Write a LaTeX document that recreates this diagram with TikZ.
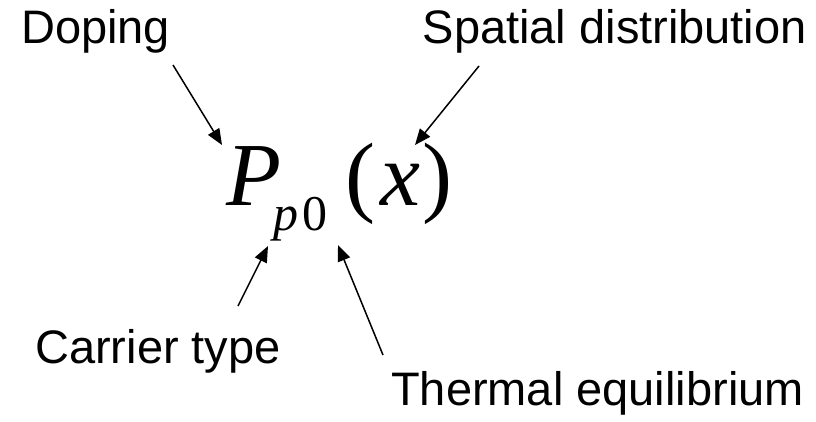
\documentclass[tikz,border=0pt]{standalone}
\usepackage{fontspec}
\setmainfont{Liberation Sans}
\newfontfamily\eqfont{Liberation Serif}
\usetikzlibrary{arrows.meta, positioning}

\begin{document}
\begin{tikzpicture}[
        x=1pt, y=-1pt,
        >={Triangle[length=16pt, width=13pt]},
        tag/.style={inner sep=0pt, anchor=base west, font=\fontsize{47}{50}\selectfont},
        sym/.style={inner sep=0pt, anchor=base west, font=\eqfont\fontsize{90}{95}\selectfont},
        pointer/.style={->, line width=1.5pt}
    ]
        \useasboundingbox (0,0) rectangle (816,421);

        % Formula
        \node[sym] (density) at (226,205) {\itshape P\kern-8pt\raisebox{-25pt}{\fontsize{50}{52}\selectfont p\kern4pt\upshape 0}\kern18pt\upshape(\kern5pt\itshape x\kern2pt\upshape)};

        % Labels
        \node[tag] (doping) at (21,43) {Doping};
        \node[tag, anchor=base east] (spatial) at (807,43) {Spatial distribution};
        \node[tag] (carrier) at (35,363) {Carrier type};
        \node[tag] (thermal) at (391,405) {Thermal equilibrium};

        % Arrow ends
        \coordinate (dopingtail) at (173,65);
        \coordinate (dopingtip) at (222,145);
        \coordinate (spatialtail) at (479,66);
        \coordinate (spatialtip) at (415,145);
        \coordinate (carriertail) at (238,306);
        \coordinate (carriertip) at (268,246);
        \coordinate (thermaltail) at (383,355);
        \coordinate (thermaltip) at (338,245);

        % Arrows
        \draw[pointer] (dopingtail) -- (dopingtip);
        \draw[pointer] (spatialtail) -- (spatialtip);
        \draw[pointer] (carriertail) -- (carriertip);
        \draw[pointer] (thermaltail) -- (thermaltip);

    \end{tikzpicture}
\end{document}
